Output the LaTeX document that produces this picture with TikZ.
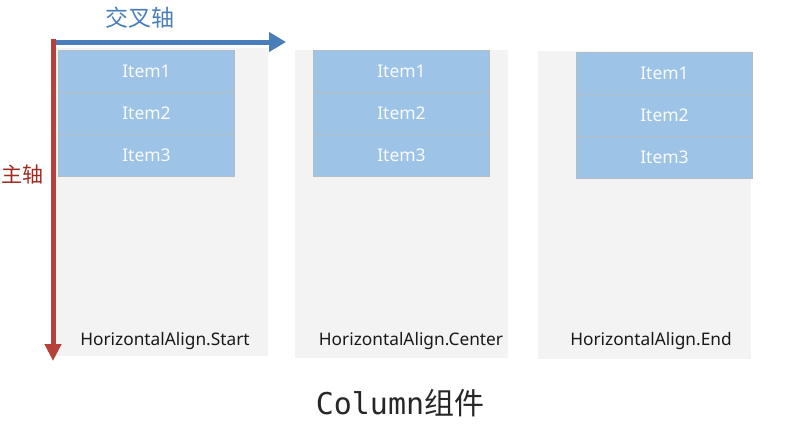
\documentclass[tikz,border=0pt]{standalone}
\usepackage{fontspec}
\setmainfont{Noto Sans}
\newfontfamily\cjk{Noto Sans CJK SC}
\newfontfamily\codefont{DejaVu Sans Mono}
\usetikzlibrary{arrows.meta,positioning}
\definecolor{panelgray}{HTML}{F3F3F3}
\definecolor{itemblue}{HTML}{9DC3E6}
\definecolor{itemline}{HTML}{B4BCC4}
\definecolor{crossblue}{HTML}{4A7EBB}
\definecolor{mainred}{HTML}{B5413B}
\definecolor{mainredtext}{HTML}{A0281E}
\tikzset{
  panel/.style={fill=panelgray, minimum width=213pt, minimum height=308pt, inner sep=0pt, anchor=north west},
  itembox/.style={fill=itemblue, draw=itemline, line width=1pt, minimum width=176pt, minimum height=42pt,
    inner sep=0pt, anchor=north west, text=white!94!itemblue, font=\fontsize{17.5}{20}\selectfont},
  alignlabel/.style={font=\fontsize{17.3}{20}\selectfont, text=black!90, inner sep=0pt},
  axis/.style={line width=5pt},
}
\begin{document}
\begin{tikzpicture}[x=1pt, y=-1pt]
    \useasboundingbox (0,0) rectangle (801,445);
    % the three Column containers
    \node[panel] (start) at (55,48) {};
    \node[panel] (center) at (295,50) {};
    \node[panel] (end) at (538,51) {};
    \foreach \p/\x/\y in {start/58/50, center/313/50, end/576/52}{
        \foreach \i in {1,2,3}
            \node[itembox] (\p-\i) at (\x,{\y+(\i-1)*42}) {Item\i};
    }
    \node[alignlabel] (startlabel) at (165,341) {HorizontalAlign.Start};
    \node[alignlabel] (centerlabel) at (411,341) {HorizontalAlign.Center};
    \node[alignlabel] (endlabel) at (651,341) {HorizontalAlign.End};
    % axes
    \coordinate (o) at (53,42);
    \coordinate (xend) at (286,42);
    \coordinate (otop) at (53,39);
    \coordinate (yend) at (53,361);
    \draw[axis, crossblue, -{Triangle[length=17pt,width=19pt]}] (o) -- (xend);
    \draw[axis, mainred, -{Triangle[length=17pt,width=16pt]}] (otop) -- (yend);
    \node[text=crossblue, font=\cjk\fontsize{23}{27}\selectfont] (crosslabel) at (140,18) {交叉轴};
    \node[text=mainredtext, font=\cjk\fontsize{21}{25}\selectfont, inner sep=0pt, anchor=west] (mainlabel) at (1,175) {主轴};
    % caption
    \node[text=black!85, font=\fontsize{30}{34}\selectfont] (caption) at (400,403) {\codefont Column\cjk 组件};
\end{tikzpicture}
\end{document}
